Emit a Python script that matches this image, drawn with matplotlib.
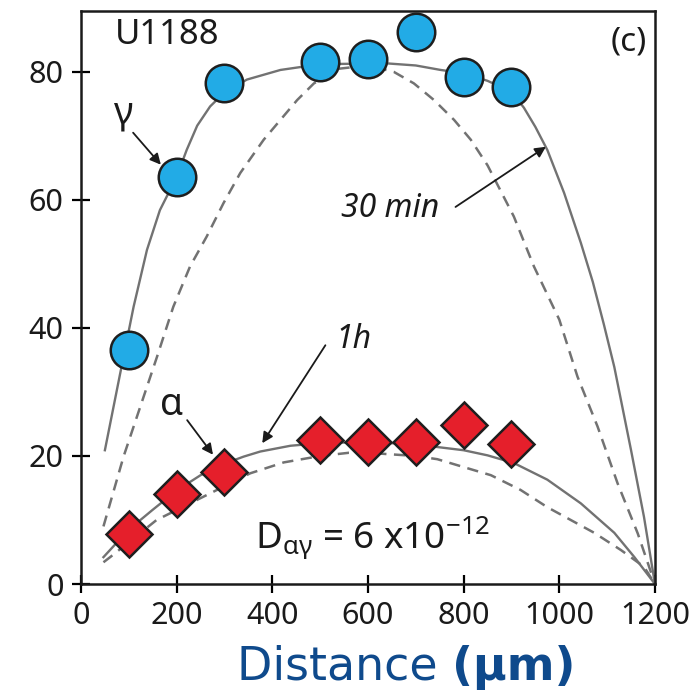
import matplotlib
matplotlib.use("Agg")
import matplotlib.pyplot as plt

plt.rcParams['font.family'] = ['Noto Sans', 'DejaVu Sans']
plt.rcParams['mathtext.fontset'] = 'custom'
plt.rcParams['mathtext.rm'] = 'Noto Sans'
plt.rcParams['mathtext.it'] = 'Noto Sans:italic'
plt.rcParams['mathtext.bf'] = 'Noto Sans:bold'

# ---- data ----
gamma_x = [100, 200, 300, 500, 600, 700, 800, 900]
gamma_y = [36.6, 63.6, 78.3, 81.6, 82.0, 86.3, 79.2, 77.7]

alpha_x = [100, 200, 300, 500, 600, 700, 800, 900]
alpha_y = [7.8, 14.0, 17.5, 22.5, 22.2, 22.2, 24.8, 21.9]

# model curves (30 min solid, 1 h dashed)
g_solid_x = [50, 82, 110, 138, 165, 200, 221, 243, 270, 300, 347, 417, 500, 600, 626,
             700, 752, 800, 850, 900, 926, 950, 975, 1010, 1045, 1070, 1093, 1115, 1150, 1177, 1200]
g_solid_y = [20.9, 32.9, 43.3, 52.2, 58.4, 63.6, 67.8, 71.6, 74.6, 76.8, 78.8, 80.3, 81.2, 81.3, 81.4,
             81.0, 80.3, 79.8, 78.6, 76.9, 74.4, 71.4, 67.8, 61.1, 53.3, 47.2, 40.6, 33.9, 20.9, 10.5, 0.0]

g_dash_x = [47, 89, 124, 159, 193, 228, 263, 298, 333, 382, 417, 452, 487, 540, 600,
            654, 696, 738, 780, 815, 850, 905, 947, 1000, 1038, 1080, 1122, 1164, 1200]
g_dash_y = [9.0, 19.9, 27.7, 35.5, 43.3, 49.6, 54.3, 59.5, 64.2, 69.4, 72.5, 75.6, 78.2, 80.5, 81.0,
            80.0, 78.2, 75.6, 72.5, 69.4, 65.4, 57.4, 49.6, 41.3, 32.4, 24.6, 15.7, 7.9, 0.0]

a_solid_x = [47, 100, 150, 200, 250, 300, 340, 375, 438, 500, 600, 700, 745, 800,
             850, 905, 975, 1045, 1115, 1157, 1200]
a_solid_y = [4.2, 8.5, 11.6, 14.6, 17.0, 18.8, 19.9, 20.7, 21.6, 22.0, 22.2, 21.8, 21.4, 20.9,
             20.1, 18.9, 16.3, 12.6, 8.0, 4.2, 0.0]

a_dash_x = [47, 61, 158, 263, 354, 424, 500, 560, 620, 700, 745, 821, 857, 919,
            975, 1024, 1073, 1129, 1177, 1200]
a_dash_y = [3.4, 4.2, 10.0, 13.9, 17.3, 19.0, 20.0, 20.5, 20.4, 20.0, 19.5, 17.8, 17.0, 14.7,
            12.0, 10.0, 8.0, 5.3, 2.7, 0.0]

x_ticks = [0, 200, 400, 600, 800, 1000, 1200]
y_ticks = [0, 20, 40, 60, 80]

# ---- figure ----
fig = plt.figure(figsize=(6.95, 6.91), dpi=100)
ax = fig.add_axes([0.1165, 0.1548, 0.8259, 0.8292])

line_col = '#727272'
ax.plot(g_solid_x, g_solid_y, color=line_col, lw=1.7, zorder=2, solid_joinstyle='round')
ax.plot(a_solid_x, a_solid_y, color=line_col, lw=1.7, zorder=2, solid_joinstyle='round')
ax.plot(g_dash_x, g_dash_y, color=line_col, lw=1.8, dashes=(4.5, 3.0), zorder=2)
ax.plot(a_dash_x, a_dash_y, color=line_col, lw=1.8, dashes=(4.5, 3.0), zorder=2)

ax.plot(gamma_x, gamma_y, 'o', ms=27, mfc='#22abe6', mec='#1e1e1e', mew=1.8,
        linestyle='none', zorder=3, clip_on=False)
ax.plot(alpha_x, alpha_y, 'D', ms=23, mfc='#e51f2b', mec='#1e1e1e', mew=1.8,
        linestyle='none', zorder=3, clip_on=False)

ax.set_xlim(0, 1200)
ax.set_ylim(0, 89.5)
ax.set_xticks(x_ticks)
ax.set_yticks(y_ticks)
ax.tick_params(axis='both', direction='inout', length=13, width=1.6,
               labelsize=22, labelcolor='#1a1a1a', pad=6)
for s in ax.spines.values():
    s.set_linewidth(1.8)
    s.set_color('#1a1a1a')

txt_col = '#1a1a1a'
ax.text(71, 85.8, 'U1188', fontsize=25, color=txt_col, ha='left', va='center')
ax.text(1183, 84.7, '(c)', fontsize=24, color=txt_col, ha='right', va='center')
ax.text(90, 72.0, 'γ', fontsize=27, color=txt_col, ha='center', va='baseline')
ax.text(190, 26.4, 'α', fontsize=27, color=txt_col, ha='center', va='baseline')
ax.text(748, 57.3, '30 min', fontsize=23, style='italic', color=txt_col,
        ha='right', va='baseline')
ax.text(532, 36.9, '1h', fontsize=23, style='italic', color=txt_col,
        ha='left', va='baseline')
ax.text(364, 5.6, r'D$_{\mathrm{αγ}}$ = 6 x10$^{\mathrm{-12}}$', fontsize=26.5,
        color=txt_col, ha='left', va='baseline')

arrow = dict(arrowstyle='-|>', color='#1a1a1a', lw=1.3, mutation_scale=16,
             shrinkA=0, shrinkB=0)
ax.annotate('', xy=(167, 65.5), xytext=(109, 70.5), arrowprops=arrow, zorder=4)
ax.annotate('', xy=(276, 20.2), xytext=(222, 25.6), arrowprops=arrow, zorder=4)
ax.annotate('', xy=(972, 68.3), xytext=(783, 58.9), arrowprops=arrow, zorder=4)
ax.annotate('', xy=(379, 22.0), xytext=(511, 37.3), arrowprops=arrow, zorder=4)

# x label: "Distance " regular + "(μm)" bold
lab_col = '#0f4a8c'
t1 = fig.text(237 / 695, 0.016, 'Distance ', fontsize=33, color=lab_col,
              family='DejaVu Sans', ha='left', va='baseline')
fig.canvas.draw()
bb = t1.get_window_extent(renderer=fig.canvas.get_renderer())
fig.text(bb.x1 / fig.bbox.width, 0.016, '(μm)', fontsize=33, color=lab_col,
         family='DejaVu Sans', weight='bold', ha='left', va='baseline')

fig.savefig('out.png', dpi=100)
